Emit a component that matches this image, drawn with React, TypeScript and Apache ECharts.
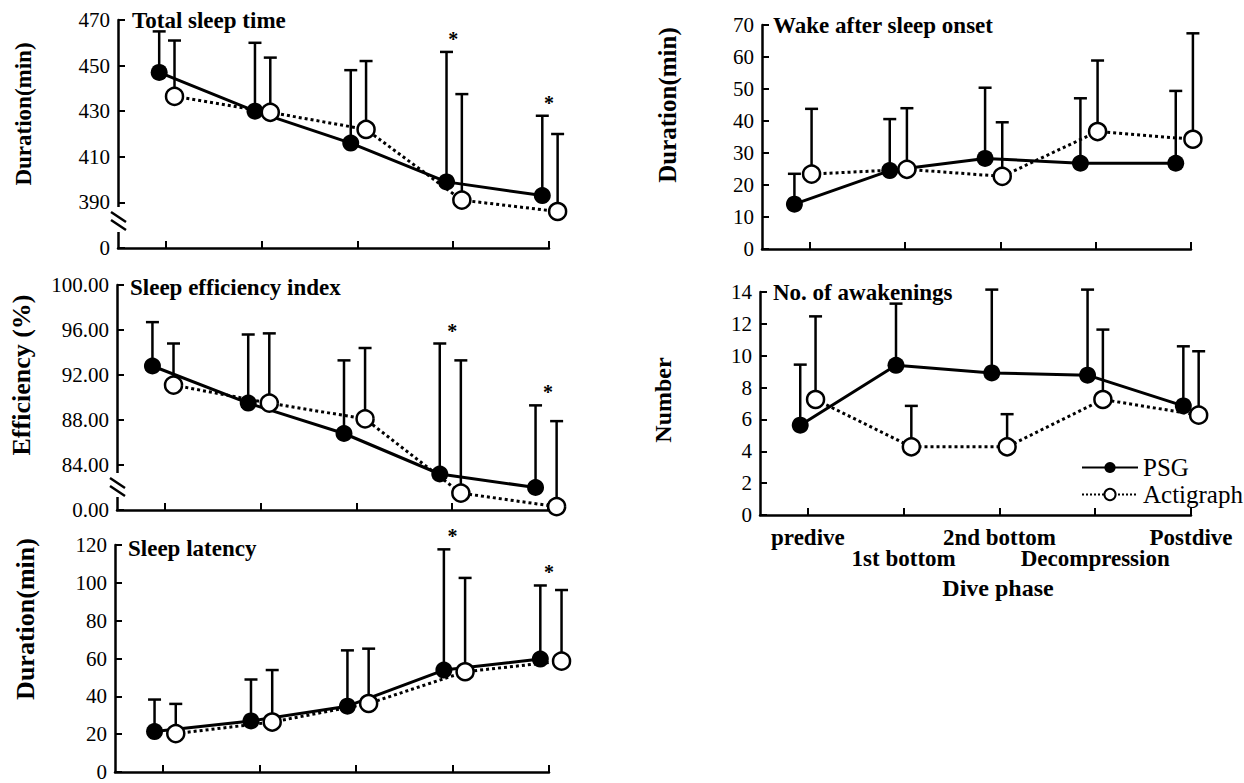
import React, { useEffect, useRef } from 'react';
import * as echarts from 'echarts';

const FONT = "'Liberation Serif', 'Times New Roman', Times, serif";

// x categories
const phases = ['predive', '1st bottom', '2nd bottom', 'Decompression', 'Postdive'];
const seriesNames = ['PSG', 'Actigraph'];

// Total sleep time (min): means and mean+SD tops
const tstPsg = [447, 430, 416, 399, 393];
const tstPsgTop = [465, 460, 448, 456, 428];
const tstAct = [436.5, 429.5, 422, 391, 386];
const tstActTop = [461, 453.5, 452, 437.5, 420];
const tstSig = [3, 4];

// Sleep efficiency index (%)
const seiPsg = [92.8, 89.5, 86.8, 83.2, 82.0];
const seiPsgTop = [96.7, 95.6, 93.3, 94.8, 89.3];
const seiAct = [91.1, 89.5, 88.1, 81.5, 80.3];
const seiActTop = [94.8, 95.7, 94.4, 93.3, 87.9];
const seiSig = [3, 4];

// Sleep latency (min)
const slPsg = [21.4, 27, 34.8, 53.9, 59.7];
const slPsgTop = [38.3, 48.9, 64.3, 117.7, 98.6];
const slAct = [20.3, 26.4, 36.2, 53, 58.6];
const slActTop = [36, 53.9, 65.2, 102.6, 96.2];
const slSig = [3, 4];

// Wake after sleep onset (min)
const wasoPsg = [14, 24.5, 28.3, 26.8, 26.8];
const wasoPsgTop = [23.5, 40.6, 50.4, 47.1, 49.4];
const wasoAct = [23.4, 24.9, 22.7, 36.7, 34.3];
const wasoActTop = [43.8, 44, 39.6, 58.9, 67.4];
const wasoSig: number[] = [];

// No. of awakenings
const awkPsg = [5.64, 9.4, 8.92, 8.78, 6.85];
const awkPsgTop = [9.44, 13.27, 14.15, 14.15, 10.59];
const awkAct = [7.25, 4.28, 4.28, 7.25, 6.27];
const awkActTop = [12.47, 6.85, 6.33, 11.64, 10.28];
const awkSig: number[] = [];

// axis break: lowest tick is shown as zero
const tstBreak = { at: 370, label: '0' };
const seiBreak = { at: 80, label: '0.00' };

const panels = [
  {
    grid: { left: 118, top: 20, width: 431, height: 228 },
    y: { min: 370, max: 470, interval: 20 },
    fmt: (v: number) => (v === tstBreak.at ? tstBreak.label : String(v)),
    psg: tstPsg, psgTop: tstPsgTop, act: tstAct, actTop: tstActTop, sig: tstSig,
    offP: -0.07, offA: 0.09,
    title: 'Total sleep time', titlePos: [132, 20],
    yName: 'Duration(min)', yNamePos: [23, 114], yNameSize: 23,
    brk: { x: 118, y1: 207, y2: 232 },
  },
  {
    grid: { left: 117, top: 285, width: 431, height: 225 },
    y: { min: 80, max: 100, interval: 4 },
    fmt: (v: number) => (v === seiBreak.at ? seiBreak.label : v.toFixed(2)),
    psg: seiPsg, psgTop: seiPsgTop, act: seiAct, actTop: seiActTop, sig: seiSig,
    offP: -0.13, offA: 0.09,
    title: 'Sleep efficiency index', titlePos: [130, 287],
    yName: 'Efficiency (%)', yNamePos: [21, 375], yNameSize: 26,
    brk: { x: 117, y1: 473, y2: 497 },
  },
  {
    grid: { left: 115, top: 545, width: 434, height: 227 },
    y: { min: 0, max: 120, interval: 20 },
    fmt: (v: number) => String(v),
    psg: slPsg, psgTop: slPsgTop, act: slAct, actTop: slActTop, sig: slSig,
    offP: -0.09, offA: 0.13,
    title: 'Sleep latency', titlePos: [128, 548],
    yName: 'Duration(min)', yNamePos: [25, 619], yNameSize: 26,
    brk: null,
  },
  {
    grid: { left: 762, top: 25, width: 429, height: 224 },
    y: { min: 0, max: 70, interval: 10 },
    fmt: (v: number) => String(v),
    psg: wasoPsg, psgTop: wasoPsgTop, act: wasoAct, actTop: wasoActTop, sig: wasoSig,
    offP: -0.16, offA: 0.02,
    title: 'Wake after sleep onset', titlePos: [773, 25],
    yName: 'Duration(min)', yNamePos: [667, 105], yNameSize: 25,
    brk: null,
  },
  {
    grid: { left: 760, top: 292, width: 431, height: 223 },
    y: { min: 0, max: 14, interval: 2 },
    fmt: (v: number) => String(v),
    psg: awkPsg, psgTop: awkPsgTop, act: awkAct, actTop: awkActTop, sig: awkSig,
    offP: -0.08, offA: 0.08,
    title: 'No. of awakenings', titlePos: [773, 292],
    yName: 'Number', yNamePos: [663, 400], yNameSize: 24,
    brk: null,
    xLabels: true,
  },
];

const tickValues = phases.map((_, i) => i);
const upperRow = tickValues.filter((k) => k % 2 === 0);
const lowerRow = tickValues.filter((k) => k % 2 === 1);

function errorBarRender(params: any, api: any) {
  const x = api.value(0);
  const m = api.value(1);
  const u = api.value(2);
  const p0 = api.coord([x, m]);
  const p1 = api.coord([x, u]);
  return {
    type: 'group',
    children: [
      { type: 'line', shape: { x1: p0[0], y1: p0[1], x2: p1[0], y2: p1[1] }, style: { stroke: '#000', lineWidth: 2.5 } },
      { type: 'line', shape: { x1: p1[0] - 6.5, y1: p1[1], x2: p1[0] + 6.5, y2: p1[1] }, style: { stroke: '#000', lineWidth: 2.5 } },
    ],
  };
}

function starRender(params: any, api: any) {
  const p = api.coord([api.value(0), api.value(1)]);
  return {
    type: 'text',
    x: p[0],
    y: p[1] - 13,
    style: {
      text: '*', fontSize: 20, fontWeight: 'bold', fontFamily: FONT, fill: '#000',
      align: 'center', verticalAlign: 'middle', textAlign: 'center', textVerticalAlign: 'middle',
    },
  };
}

const catLabelStyle = {
  fontSize: 23, fontWeight: 'bold', fontFamily: FONT, color: '#000',
  hideOverlap: false, showMinLabel: true, showMaxLabel: true,
  formatter: (v: number) => phases[Math.round(v)],
};

function buildOption() {
  const grid: any[] = [];
  const xAxis: any[] = [];
  const yAxis: any[] = [];
  const series: any[] = [];
  const graphic: any[] = [];

  panels.forEach((p: any, i) => {
    grid.push({ ...p.grid, containLabel: false, outerBoundsMode: 'none' });
    xAxis.push({
      gridIndex: i, type: 'value', min: -0.5, max: 4, position: 'bottom',
      axisLine: { show: true, onZero: false, lineStyle: { color: '#000', width: 2.5 } },
      axisTick: { show: true, inside: true, length: 7, customValues: tickValues, lineStyle: { color: '#000', width: 2 } },
      axisLabel: p.xLabels
        ? { show: true, customValues: upperRow, margin: 11, ...catLabelStyle }
        : { show: false },
      splitLine: { show: false },
    });
    yAxis.push({
      gridIndex: i, type: 'value', ...p.y,
      axisLine: { show: true, onZero: false, lineStyle: { color: '#000', width: 2.5 } },
      axisTick: { show: true, inside: true, length: 7, lineStyle: { color: '#000', width: 2 } },
      axisLabel: {
        fontSize: 21, fontFamily: FONT, color: '#000', margin: 8, formatter: p.fmt,
        showMinLabel: true, showMaxLabel: true,
      },
      splitLine: { show: false },
    });

    series.push({
      type: 'custom', xAxisIndex: i, yAxisIndex: i, silent: true, clip: false, z: 2,
      renderItem: errorBarRender, encode: { x: 0, y: [1, 2] },
      data: p.psg.map((v: number, k: number) => [k + p.offP, v, p.psgTop[k]]),
    });
    series.push({
      type: 'custom', xAxisIndex: i, yAxisIndex: i, silent: true, clip: false, z: 2,
      renderItem: errorBarRender, encode: { x: 0, y: [1, 2] },
      data: p.act.map((v: number, k: number) => [k + p.offA, v, p.actTop[k]]),
    });
    series.push({
      type: 'line', name: seriesNames[0], xAxisIndex: i, yAxisIndex: i, silent: true, clip: false,
      data: p.psg.map((v: number, k: number) => [k + p.offP, v]),
      symbol: 'circle', symbolSize: 17, z: 3,
      itemStyle: { color: '#000' },
      lineStyle: { color: '#000', width: 3 },
    });
    series.push({
      type: 'line', name: seriesNames[1], xAxisIndex: i, yAxisIndex: i, silent: true, clip: false,
      data: p.act.map((v: number, k: number) => [k + p.offA, v]),
      symbol: 'circle', symbolSize: 17, z: 4,
      itemStyle: { color: '#fff', borderColor: '#000', borderWidth: 2.5 },
      lineStyle: { color: '#000', width: 3, type: 'dotted' },
    });
    if (p.sig.length) {
      series.push({
        type: 'custom', xAxisIndex: i, yAxisIndex: i, silent: true, clip: false, z: 5,
        renderItem: starRender, encode: { x: 0, y: 1 },
        data: p.sig.map((k: number) => [k, p.psgTop[k]]),
      });
    }

    graphic.push({
      type: 'text', x: p.titlePos[0], y: p.titlePos[1], z: 10,
      style: {
        text: p.title, fontSize: 23, fontWeight: 'bold', fontFamily: FONT, fill: '#000',
        align: 'left', verticalAlign: 'middle', textAlign: 'left', textVerticalAlign: 'middle',
      },
    });
    graphic.push({
      type: 'text', x: p.yNamePos[0], y: p.yNamePos[1], rotation: Math.PI / 2, z: 10,
      style: {
        text: p.yName, fontSize: p.yNameSize, fontWeight: 'bold', fontFamily: FONT, fill: '#000',
        align: 'center', verticalAlign: 'middle', textAlign: 'center', textVerticalAlign: 'middle',
      },
    });
    if (p.brk) {
      const b = p.brk;
      graphic.push({ type: 'rect', z: 20, shape: { x: b.x - 4, y: b.y1, width: 8, height: b.y2 - b.y1 }, style: { fill: '#fff' } });
      graphic.push({ type: 'line', z: 21, shape: { x1: b.x - 7, y1: b.y1 + 5, x2: b.x + 8, y2: b.y1 + 15 }, style: { stroke: '#000', lineWidth: 2.5 } });
      graphic.push({ type: 'line', z: 21, shape: { x1: b.x - 7, y1: b.y1 + 13, x2: b.x + 8, y2: b.y1 + 23 }, style: { stroke: '#000', lineWidth: 2.5 } });
    }
  });

  // second label row of the dive-phase axis (staggered categories)
  xAxis.push({
    gridIndex: 4, type: 'value', min: -0.5, max: 4, position: 'bottom',
    axisLine: { show: false }, axisTick: { show: false }, splitLine: { show: false },
    axisLabel: { show: true, customValues: lowerRow, margin: 32, ...catLabelStyle },
  });

  graphic.push({
    type: 'text', x: 998, y: 588, z: 10,
    style: {
      text: 'Dive phase', fontSize: 24, fontWeight: 'bold', fontFamily: FONT, fill: '#000',
      align: 'center', verticalAlign: 'middle', textAlign: 'center', textVerticalAlign: 'middle',
    },
  });

  return {
    animation: false,
    backgroundColor: '#fff',
    textStyle: { fontFamily: FONT, color: '#000' },
    grid, xAxis, yAxis, series, graphic,
    legend: {
      show: true, data: seriesNames, orient: 'vertical', left: 1076, top: 450,
      itemWidth: 56, itemHeight: 14, itemGap: 2, selectedMode: false,
      textStyle: { fontSize: 25, fontFamily: FONT, color: '#000', lineHeight: 25 },
    },
  };
}

export default function App() {
  const ref = useRef<HTMLDivElement>(null);
  useEffect(() => {
    const chart = echarts.init(ref.current!, null, { renderer: 'svg' });
    chart.setOption(buildOption() as any);
    return () => chart.dispose();
  }, []);
  return (
    <div
      ref={ref}
      style={{ position: 'absolute', left: 0, top: 0, width: 1244, height: 783, background: '#fff' }}
    />
  );
}
